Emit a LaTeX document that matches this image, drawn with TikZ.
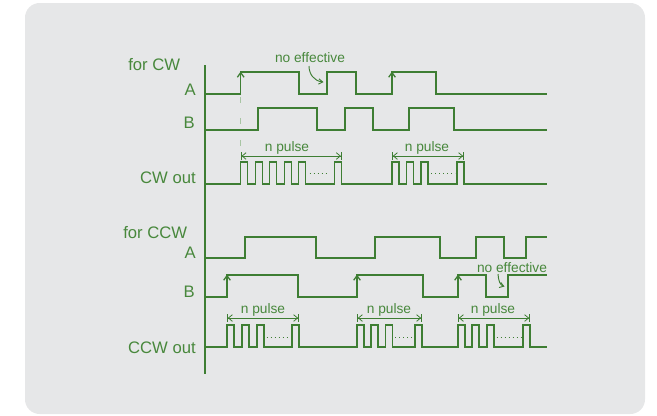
\documentclass[tikz,border=0pt]{standalone}
\usepackage{fontspec}
\setmainfont{Liberation Sans}
\usetikzlibrary{arrows.meta}
\definecolor{sig}{RGB}{62,126,51}
\definecolor{txt}{RGB}{72,136,60}
\definecolor{panel}{RGB}{230,231,232}
\tikzset{
  wire/.style={draw=sig, line width=0.95pt, line join=miter},
  edgearrow/.style={draw=sig, line width=0.95pt, -{Straight Barb[length=3.5pt,width=5pt]}},
  lbl/.style={text=txt, font=\fontsize{12.5}{14}\selectfont, inner sep=0pt},
  small/.style={text=txt, font=\fontsize{10.3}{12}\selectfont, inner sep=0pt},
  span/.style={draw=sig, line width=0.6pt, {Bar[width=6pt]Straight Barb[length=3pt,width=5pt]}-{Straight Barb[length=3pt,width=5pt]Bar[width=6pt]}},
  dots/.style={draw=sig, line width=0.7pt, dash pattern=on 0.8pt off 2.2pt},
  guide/.style={draw=sig!45, line width=0.7pt, dash pattern=on 4.5pt off 11.6pt},
  curvearrow/.style={draw=sig, line width=0.7pt, -{Straight Barb[length=3pt,width=4pt]}}
}
\begin{document}
\begin{tikzpicture}[x=0.75pt,y=-0.75pt]
\useasboundingbox (0,0) rectangle (657,415);
\fill[panel, rounded corners=11pt] (25,3) rectangle (645,414);

% axis
\draw[wire] (205,65) -- (205,374);

% labels
\node[lbl, anchor=base west] (forcw) at (128,70) {for CW};
\node[lbl, anchor=base east] (cwa) at (196,95) {A};
\node[lbl, anchor=base east] (cwb) at (195,128) {B};
\node[lbl, anchor=base east] (cwout) at (196,183) {CW out};
\node[lbl, anchor=base west] (forccw) at (123,238) {for CCW};
\node[lbl, anchor=base east] (ccwa) at (196,258) {A};
\node[lbl, anchor=base east] (ccwb) at (195,297) {B};
\node[lbl, anchor=base east] (ccwout) at (196,353) {CCW out};

% ---------- CW ----------
\draw[wire] (205,94) -- (240.7,94) -- (240.7,72) -- (299,72) -- (299,94) -- (327,94) -- (327,72) -- (356,72) -- (356,94) -- (392,94) -- (392,72) -- (436,72) -- (436,94) -- (547,94);
\draw[edgearrow] (240.7,94) -- (240.7,71.5);
\draw[edgearrow] (392,94) -- (392,71.5);
\draw[wire] (205,130) -- (258,130) -- (258,108) -- (317,108) -- (317,130) -- (345,130) -- (345,108) -- (373,108) -- (373,130) -- (409,130) -- (409,108) -- (454,108) -- (454,130) -- (547,130);
\draw[wire] (205,184)
  \foreach \s in {240.7,255.2,269.7,284.2,298.7,334.5,392,406.5,421,457} { -- (\s,184) -- (\s,162) -- (\s+7,162) -- (\s+7,184) }
  -- (547,184);
\draw[dots] (309.5,173) -- (328,173);
\draw[dots] (431,173) -- (455,173);
\draw[guide] (240.7,97) -- (240.7,148);

\coordinate (cwl1) at (240.7,156); \coordinate (cwr1) at (341.7,156);
\coordinate (cwl2) at (392,156); \coordinate (cwr2) at (464,156);
\draw[span] (cwl1) -- (cwr1);
\draw[span] (cwl2) -- (cwr2);
\node[small, anchor=base] (np1) at (287,151) {n pulse};
\node[small, anchor=base] (np2) at (427,151) {n pulse};

\node[small, anchor=base] (ne1) at (310,62) {no effective};
\coordinate (ne1s) at (309,66);
\coordinate (ne1e) at (323.5,82);
\draw[curvearrow] (ne1s) .. controls (309,74) and (314,81) .. (ne1e);

% ---------- CCW ----------
\draw[wire] (205,258) -- (245,258) -- (245,237) -- (316,237) -- (316,258) -- (375,258) -- (375,237) -- (440,237) -- (440,258) -- (476,258) -- (476,237) -- (504,237) -- (504,258) -- (526,258) -- (526,237) -- (547,237);
\draw[wire] (205,297) -- (227,297) -- (227,275) -- (298,275) -- (298,297) -- (357,297) -- (357,275) -- (423,275) -- (423,297) -- (458,297) -- (458,275) -- (486,275) -- (486,297) -- (508,297) -- (508,275) -- (547,275);
\draw[edgearrow] (227,297) -- (227,274.5);
\draw[edgearrow] (357,297) -- (357,274.5);
\draw[edgearrow] (458,297) -- (458,274.5);
\draw[wire] (205,347)
  \foreach \s in {227,242,257,292,357,371,385.5,415,458,472,487,523} { -- (\s,347) -- (\s,325) -- (\s+7,325) -- (\s+7,347) }
  -- (547,347);
\draw[dots] (266.5,337) -- (290,337);
\draw[dots] (395,337) -- (413,337);
\draw[dots] (496.5,337) -- (521,337);

\coordinate (ccl1) at (227,318); \coordinate (ccr1) at (299,318);
\coordinate (ccl2) at (357,318); \coordinate (ccr2) at (422,318);
\coordinate (ccl3) at (458,318); \coordinate (ccr3) at (530,318);
\draw[span] (ccl1) -- (ccr1);
\draw[span] (ccl2) -- (ccr2);
\draw[span] (ccl3) -- (ccr3);
\node[small, anchor=base] (np3) at (263,313) {n pulse};
\node[small, anchor=base] (np4) at (389,313) {n pulse};
\node[small, anchor=base] (np5) at (493,313) {n pulse};

\node[small, anchor=base] (ne2) at (512,272) {no effective};
\coordinate (ne2s) at (498,274);
\coordinate (ne2e) at (504.5,286.5);
\draw[curvearrow] (ne2s) .. controls (498.5,281) and (500,285) .. (ne2e);
\end{tikzpicture}
\end{document}
